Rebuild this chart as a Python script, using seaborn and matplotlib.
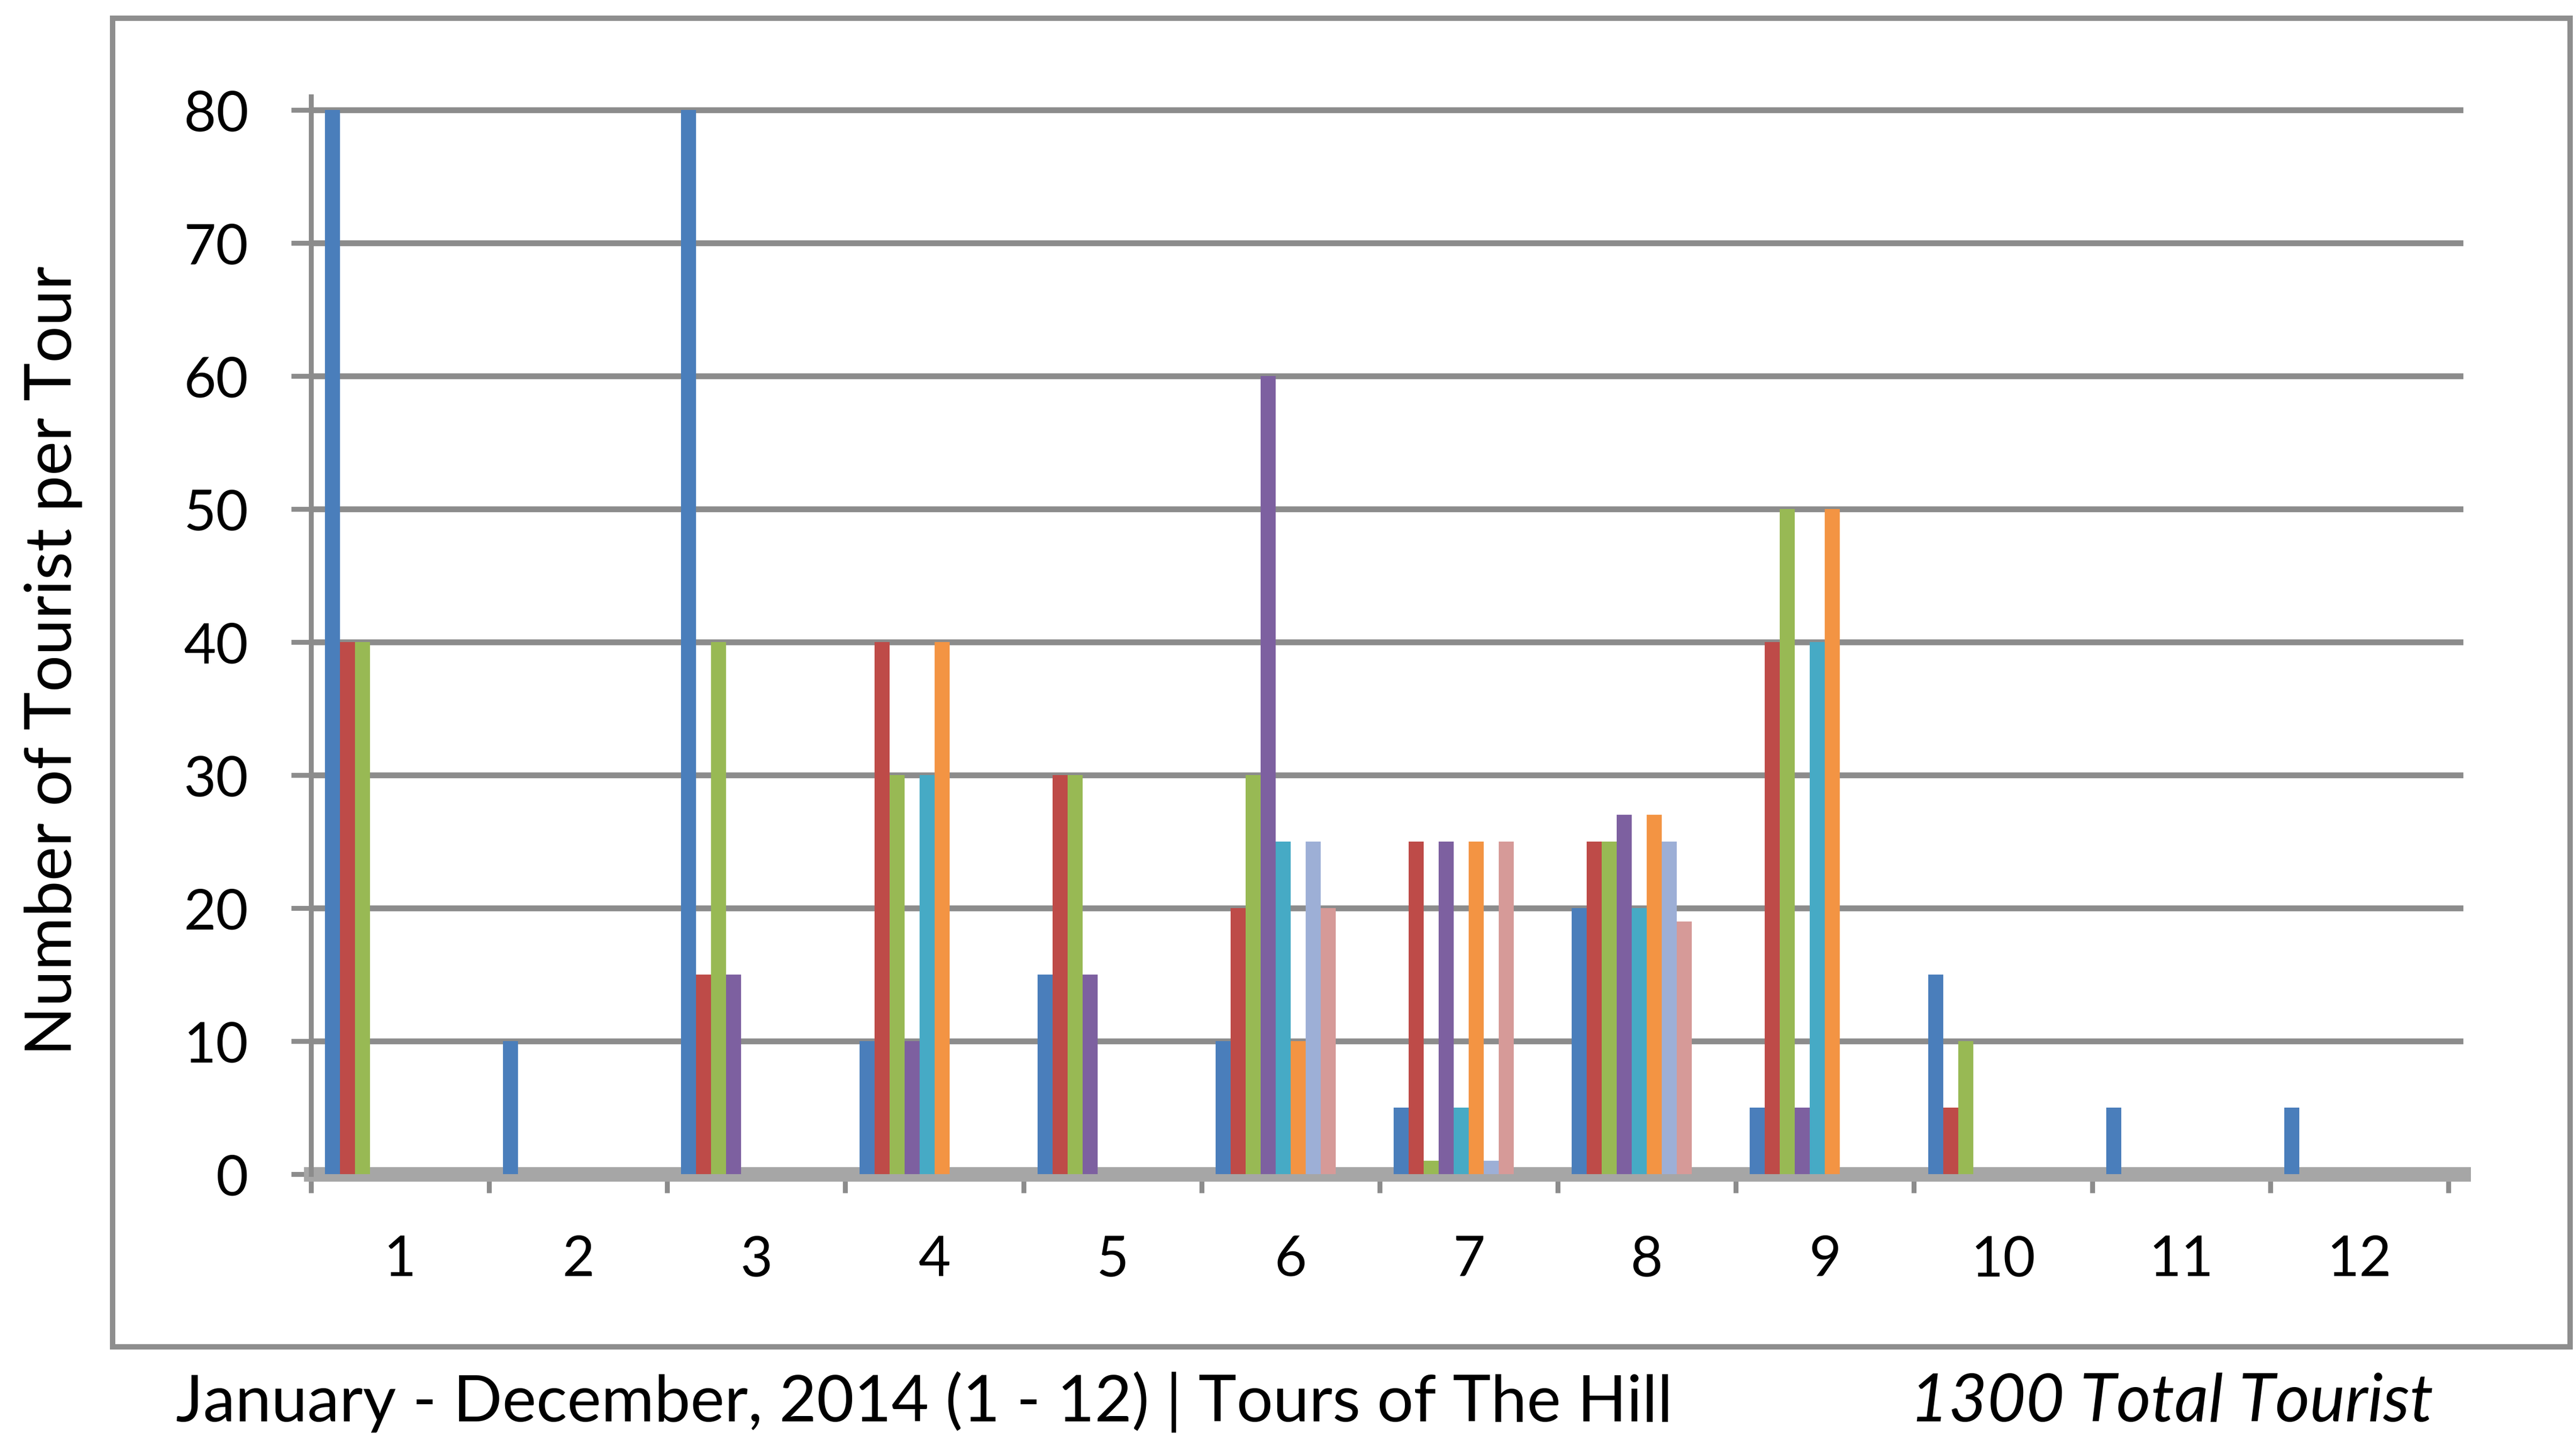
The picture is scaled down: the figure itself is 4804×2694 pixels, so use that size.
import numpy as np
import pandas as pd
import matplotlib
matplotlib.use("Agg")
import matplotlib.pyplot as plt
from matplotlib.patches import Rectangle
import seaborn as sns

# ---------------- data ----------------
months = ["1", "2", "3", "4", "5", "6", "7", "8", "9", "10", "11", "12"]
tour_names = ["Tour 1", "Tour 2", "Tour 3", "Tour 4", "Tour 5",
              "Tour 6", "Tour 7", "Tour 8", "Tour 9", "Tour 10"]
tour1 = [80, 10, 80, 10, 15, 10, 5, 20, 5, 15, 5, 5]
tour2 = [40, 0, 15, 40, 30, 20, 25, 25, 40, 5, 0, 0]
tour3 = [40, 0, 40, 30, 30, 30, 1, 25, 50, 10, 0, 0]
tour4 = [0, 0, 15, 10, 15, 60, 25, 27, 5, 0, 0, 0]
tour5 = [0, 0, 0, 30, 0, 25, 5, 20, 40, 0, 0, 0]
tour6 = [0, 0, 0, 40, 0, 10, 25, 27, 50, 0, 0, 0]
tour7 = [0, 0, 0, 0, 0, 25, 1, 25, 0, 0, 0, 0]
tour8 = [0, 0, 0, 0, 0, 20, 25, 19, 0, 0, 0, 0]
tour9 = [0, 0, 0, 0, 0, 0, 0, 0, 0, 0, 0, 0]
tour10 = [0, 0, 0, 0, 0, 0, 0, 0, 0, 0, 0, 0]
y_ticks = [0, 10, 20, 30, 40, 50, 60, 70, 80]

colors = ["#4A7EBB", "#BE4B48", "#98B954", "#7D60A0", "#46AAC5",
          "#F39443", "#9DAFD6", "#D69A98", "#C3D69B", "#B3A2C7"]

series = [tour1, tour2, tour3, tour4, tour5, tour6, tour7, tour8, tour9, tour10]
rows = []
for name, vals in zip(tour_names, series):
    for m, v in zip(months, vals):
        rows.append({"Month": m, "Tour": name, "Tourists": v})
df = pd.DataFrame(rows)

# ---------------- style ----------------
sns.set_style("white")
plt.rcParams["font.family"] = ["Lato", "DejaVu Sans"]

W, H, DPI = 4804, 2695, 300
fig = plt.figure(figsize=(W / DPI, H / DPI), dpi=DPI)
fig.patch.set_facecolor("white")

ax = fig.add_axes([580 / W, 505 / H, 4014 / W, (81 * 24.8) / H])

sns.barplot(data=df, x="Month", y="Tourists", hue="Tour", order=months,
            hue_order=tour_names, palette=colors, saturation=1,
            width=0.843, dodge=True, errorbar=None, legend=False,
            linewidth=0, ax=ax, zorder=3)

ax.set_xlim(-0.5, 11.5 + 28 / 332)
ax.set_ylim(0, 81)
ax.set_yticks(y_ticks)
ax.set_xlabel("")
ax.set_ylabel("")

grid_c = "#8C8C8C"
ax.yaxis.grid(True, color=grid_c, linewidth=2.6, zorder=0)
ax.xaxis.grid(False)
ax.set_axisbelow(True)

for s in ["top", "right"]:
    ax.spines[s].set_visible(False)
ax.spines["left"].set_color(grid_c)
ax.spines["left"].set_linewidth(2.2)
ax.spines["bottom"].set_color("#A6A6A6")
ax.spines["bottom"].set_linewidth(6.5)
ax.spines["bottom"].set_zorder(2)

ax.set_xticks(np.arange(-0.5, 12, 1), minor=True)
ax.tick_params(axis="x", which="major", length=0, pad=27, labelsize=25,
               labelcolor="black")
ax.tick_params(axis="x", which="minor", length=8.5, width=2.2, color=grid_c,
               direction="out", bottom=True)
ax.tick_params(axis="y", which="major", length=9, width=2.2, color=grid_c,
               direction="out", left=True, pad=19, labelsize=25,
               labelcolor="black")

# ---------------- texts ----------------
fig.text(100 / W, 1 - 1232 / H, "Number of Tourist per Tour", rotation=90,
         ha="center", va="center", fontsize=29, color="black")
fig.text(328 / W, 45 / H, "January - December, 2014 (1 - 12) | Tours of The Hill",
         ha="left", va="baseline", fontsize=28.9, color="black")
fig.text(4538 / W, 45 / H, "1300 Total Tourist", ha="right", va="baseline",
         fontsize=29.8, style="italic", color="black")

# outer chart frame
fig.patches.append(Rectangle((210 / W, 1 - 2512 / H), (4793 - 210) / W,
                             (2512 - 35) / H, transform=fig.transFigure,
                             fill=False, edgecolor="#8E8E8E", linewidth=2.4))

fig.savefig("out.png", dpi=DPI)
